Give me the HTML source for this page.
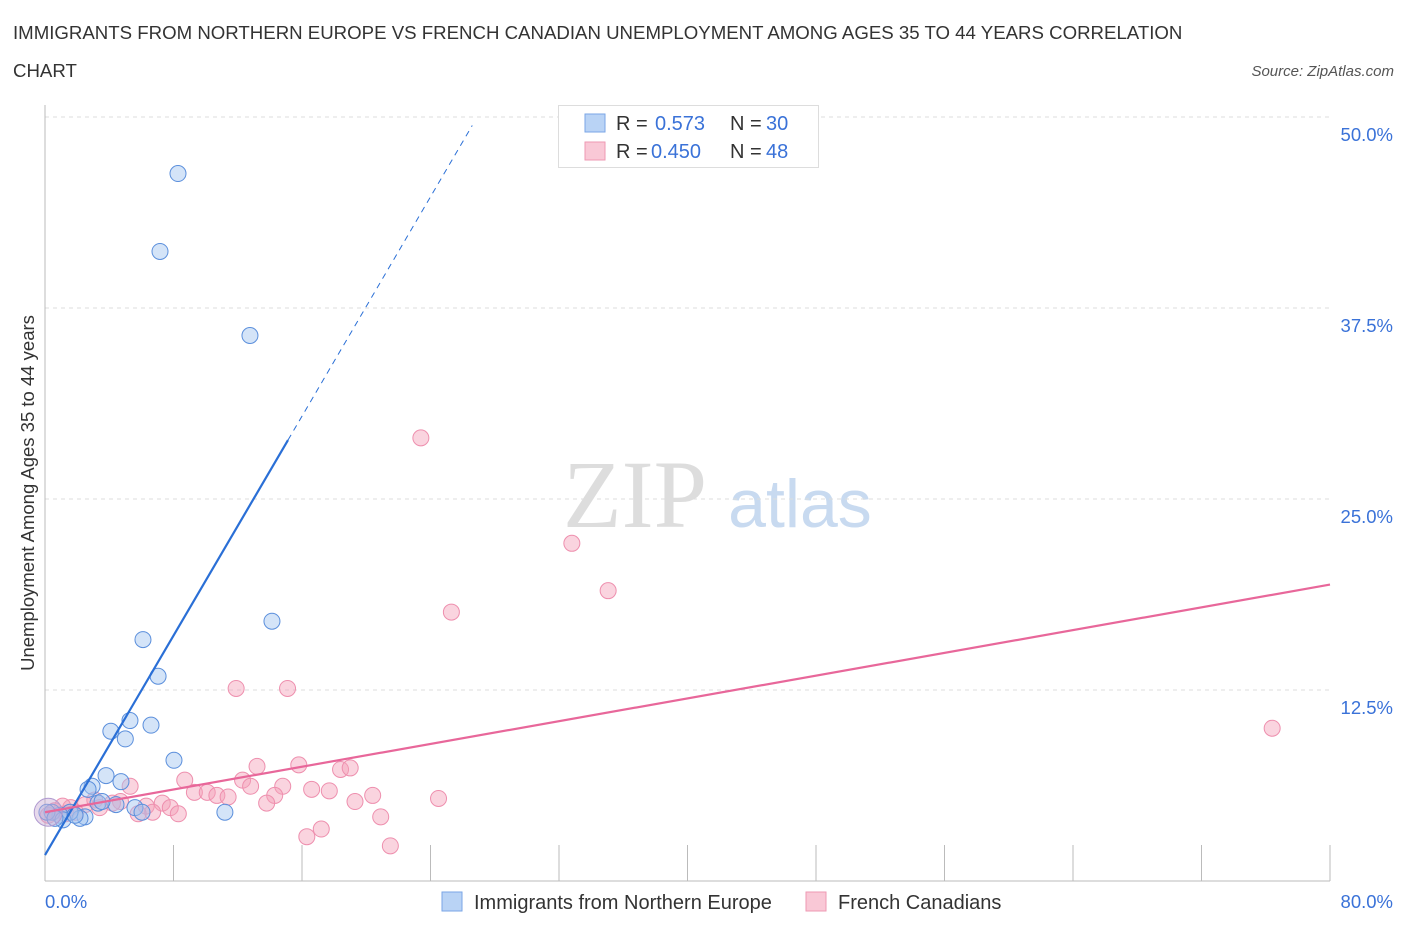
<!DOCTYPE html>
<html><head><meta charset="utf-8"><style>
body{margin:0;background:#fff;font-family:"Liberation Sans",sans-serif}
svg{display:block}
</style></head><body>
<svg id="c" width="1406" height="930" xmlns="http://www.w3.org/2000/svg">
<text x="13" y="39" font-size="18.65" fill="#333">IMMIGRANTS FROM NORTHERN EUROPE VS FRENCH CANADIAN UNEMPLOYMENT AMONG AGES 35 TO 44 YEARS CORRELATION</text>
<text x="13" y="77" font-size="18.65" fill="#333">CHART</text>
<text x="1394" y="76" font-size="15" fill="#555" font-style="italic" text-anchor="end">Source: ZipAtlas.com</text>
<g>
<text x="635" y="527" font-size="96" font-family="Liberation Serif,serif" fill="#ddd" text-anchor="middle">ZIP</text>
<text x="800" y="527" font-size="68" fill="#c8daf0" text-anchor="middle">atlas</text>
</g>
<g id="grid"></g>
<g id="axes"></g>
<g id="pts"></g>
<g id="lines"></g>
<text transform="translate(34,493) rotate(-90)" font-size="18.5" fill="#333" text-anchor="middle">Unemployment Among Ages 35 to 44 years</text>
<text x="45" y="908" font-size="18.5" fill="#3a72d8">0.0%</text>
<text x="1393" y="908" font-size="18.5" fill="#3a72d8" text-anchor="end">80.0%</text>
<g>
<rect x="558.5" y="105.5" width="260" height="62" fill="#fff" stroke="#ddd"/>
<rect x="585" y="114" width="20" height="18" fill="#b9d3f5" stroke="#7aa6e6"/>
<text x="616" y="130" font-size="20" fill="#333">R = </text><text x="655" y="130" font-size="20" fill="#3a72d8">0.573</text>
<text x="730" y="130" font-size="20" fill="#333">N = </text><text x="766" y="130" font-size="20" fill="#3a72d8">30</text>
<rect x="585" y="142" width="20" height="18" fill="#f9c8d6" stroke="#ee99b3"/>
<text x="616" y="158" font-size="20" fill="#333">R = </text><text x="651" y="158" font-size="20" fill="#3a72d8">0.450</text>
<text x="730" y="158" font-size="20" fill="#333">N = </text><text x="766" y="158" font-size="20" fill="#3a72d8">48</text>
</g>
<g>
<rect x="442" y="892" width="20" height="19" fill="#b9d3f5" stroke="#7aa6e6"/>
<text x="474" y="909" font-size="20" fill="#333">Immigrants from Northern Europe</text>
<rect x="806" y="892" width="20" height="19" fill="#f9c8d6" stroke="#ee99b3"/>
<text x="838" y="909" font-size="20" fill="#333">French Canadians</text>
</g>
</svg>
<script>
const yTicks=[12.5,25,37.5,50];
const yTickLabels=["12.5%","25.0%","37.5%","50.0%"];
const xTicks=[0,8,16,24,32,40,48,56,64,72,80];
const blueX=[8.28,7.16,12.76,14.13,6.1,7.04,5.29,4.1,6.6,5.0,8.03,3.8,4.73,2.93,2.68,3.3,4.42,5.6,6.04,11.2,2.49,2.18,1.56,0.93,0.44,0.12,1.12,1.87,3.55,0.62];
const blueY=[46.3,41.2,35.7,17.0,15.8,13.4,10.5,9.8,10.2,9.3,7.9,6.9,6.5,6.2,6.0,5.1,5.0,4.8,4.5,4.5,4.2,4.1,4.5,4.3,4.5,4.5,4.0,4.3,5.2,4.1];
const pinkX=[23.4,32.8,35.06,25.3,76.4,11.9,15.1,13.2,15.8,18.4,19.0,8.7,12.3,5.3,9.3,10.1,10.7,11.4,12.8,14.8,14.3,16.6,17.7,20.4,19.3,13.8,24.5,20.9,17.2,16.3,21.5,7.3,7.8,8.3,6.3,6.7,5.8,4.7,4.2,3.1,2.5,1.6,1.1,0.6,0.2,1.9,3.4,1.3];
const pinkY=[29.0,22.1,19.0,17.6,10.0,12.6,12.6,7.5,7.6,7.3,7.4,6.6,6.6,6.2,5.8,5.8,5.6,5.5,6.2,6.2,5.6,6.0,5.9,5.6,5.2,5.1,5.4,4.2,3.4,2.9,2.3,5.1,4.8,4.4,4.9,4.5,4.4,5.2,5.1,5.3,5.0,4.8,4.9,4.6,4.3,4.5,4.8,4.4];
const blueFit=[1.7,1.795];
const pinkFit=[4.5,0.18625];
const NS="http://www.w3.org/2000/svg";
const xS=v=>45+v*16.0625, yS=v=>881-v*15.28;
function mk(t,a,p){const e=document.createElementNS(NS,t);for(const k in a)e.setAttribute(k,a[k]);document.getElementById(p).appendChild(e);return e;}
yTicks.forEach((t,i)=>{
 const g=mk('line',{x1:45,x2:1330,y1:yS(t),y2:yS(t),stroke:'#ddd','stroke-dasharray':'4,4'},'grid');
 
 
 const l=mk('text',{x:1393,y:yS(t)+24,'font-size':18.5,fill:'#3a72d8','text-anchor':'end'},'grid');
 l.textContent=yTickLabels[i];
 
 
});
const ax=mk('line',{x1:45,x2:45,y1:105,y2:881,stroke:'#bbb'},'axes');


const bx=mk('line',{x1:45,x2:1330,y1:881,y2:881,stroke:'#bbb'},'axes');


xTicks.forEach(t=>{
 const e=mk('line',{x1:xS(t),x2:xS(t),y1:845,y2:881,stroke:'#bbb'},'axes');
 
 
});
pinkX.forEach((x,i)=>{
 const c=mk('circle',{cx:xS(x),cy:yS(pinkY[i]),r:8,fill:'rgba(244,160,185,0.45)',stroke:'#ee8fae','stroke-width':1},'pts');
 
 
});
blueX.forEach((x,i)=>{
 const c=mk('circle',{cx:xS(x),cy:yS(blueY[i]),r:8,fill:'rgba(160,195,240,0.45)',stroke:'#5b8fdc','stroke-width':1},'pts');
 
 
});
const big1=mk('circle',{cx:xS(0.2),cy:yS(4.5),r:14,fill:'rgba(200,170,210,0.45)',stroke:'#b09ad0'},'pts');


const bf=x=>blueFit[0]+blueFit[1]*x, pf=x=>pinkFit[0]+pinkFit[1]*x;
const b1=mk('line',{x1:xS(0),y1:yS(bf(0)),x2:xS(15.13),y2:yS(bf(15.13)),stroke:'#2a6fd6','stroke-width':2.2},'lines');


const b2=mk('line',{x1:xS(15.13),y1:yS(bf(15.13)),x2:xS(26.6),y2:yS(bf(26.6)),stroke:'#2a6fd6','stroke-width':1,'stroke-dasharray':'6,5'},'lines');


const p1=mk('line',{x1:xS(0),y1:yS(pf(0)),x2:xS(80),y2:yS(pf(80)),stroke:'#e8679a','stroke-width':2.2},'lines');


</script>
</body></html>
